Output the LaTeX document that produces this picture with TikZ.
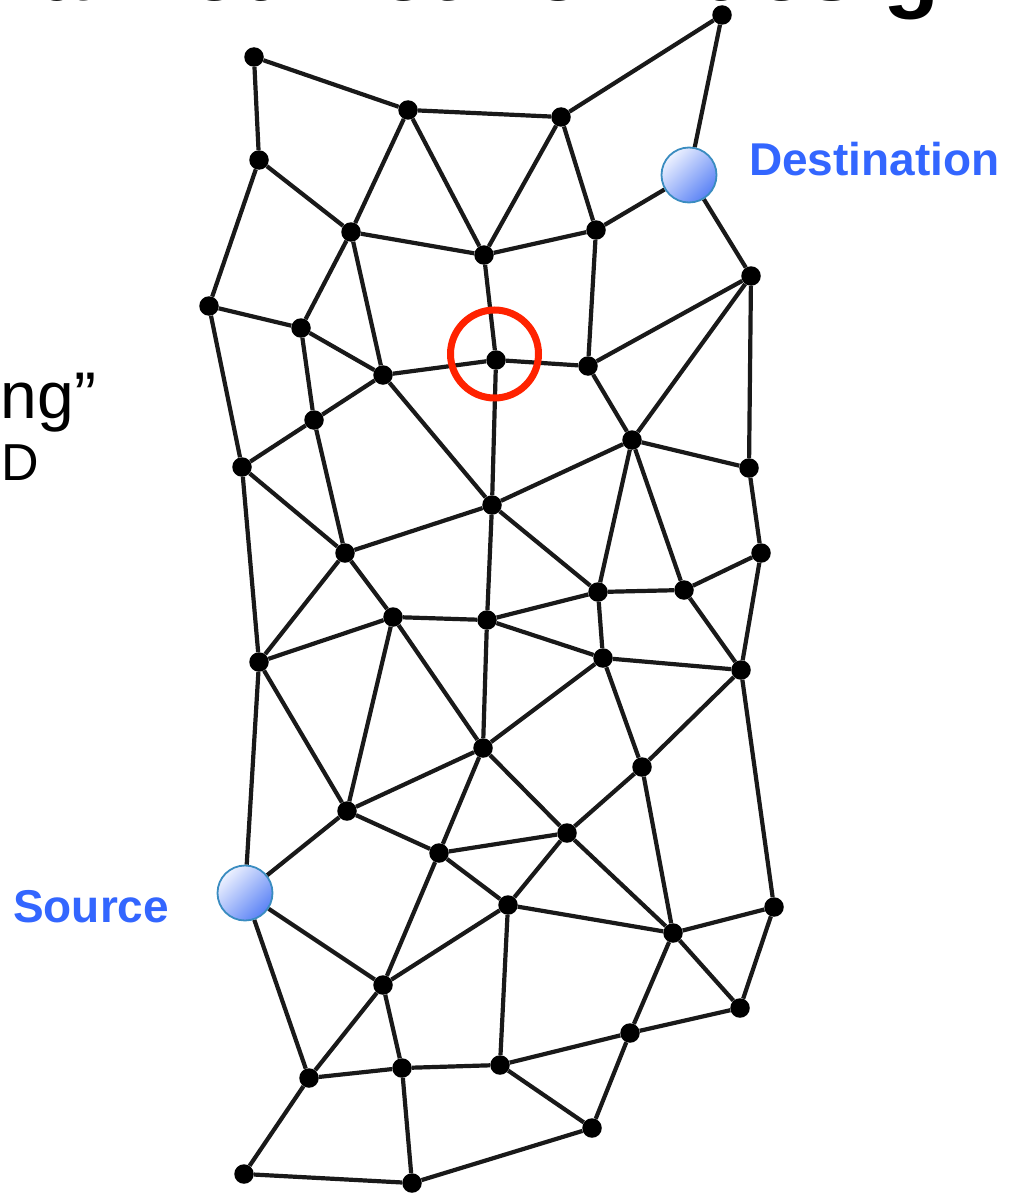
\documentclass[tikz,border=0pt]{standalone}
\usepackage{fontspec}
\setmainfont{Liberation Sans}
\usetikzlibrary{backgrounds}
\definecolor{lblc}{HTML}{3366FF}
\definecolor{ringc}{HTML}{3A8CC0}
\definecolor{shlight}{HTML}{EEF2FF}
\definecolor{shdark}{HTML}{5A82F5}
\definecolor{redc}{HTML}{FF2200}
\begin{document}
\begin{tikzpicture}[x=1pt,y=-1pt,
  dot/.style={circle,fill=black,inner sep=0pt,minimum size=19.5pt},
  link/.style={line width=4.2pt,black!90},
  endpt/.style={circle,inner sep=0pt,minimum size=55pt,draw=ringc,line width=1.8pt,
    top color=shlight,bottom color=shdark,shading angle=45},
  lbl/.style={text=lblc,font=\bfseries\fontsize{46}{46}\selectfont,inner sep=0pt,anchor=base west},
  bodytxt/.style={inner sep=0pt,anchor=base west}]
\useasboundingbox (0,0) rectangle (1015,1196);
\begin{scope}
\clip (0,0) rectangle (1015,1196);
\node[inner sep=0pt,anchor=base east,font=\bfseries\fontsize{92}{92}\selectfont] (title) at (996,0.5) {Decentralized network design};
\end{scope}
\node[bodytxt,font=\fontsize{66}{66}\selectfont] (t1) at (0.5,418) {ng”};
\node[bodytxt,font=\fontsize{52}{52}\selectfont] (t2) at (1,480) {D};

\node[dot] (n1) at (722,15) {};
\node[dot] (n2) at (254,57) {};
\node[dot] (n3) at (408,110) {};
\node[dot] (n4) at (561,117) {};
\node[dot] (n5) at (259,160) {};
\node[dot] (n6) at (351,232) {};
\node[dot] (n7) at (484,255) {};
\node[dot] (n8) at (596,230) {};
\node[dot] (n9) at (751,276) {};
\node[dot] (n10) at (209,306) {};
\node[dot] (n11) at (301,328) {};
\node[dot] (n12) at (383,375) {};
\node[dot] (R) at (496,360) {};
\node[dot] (n13) at (588,366) {};
\node[dot] (n14) at (314,420) {};
\node[dot] (n15) at (242,467) {};
\node[dot] (n16) at (632,440) {};
\node[dot] (n17) at (749,468) {};
\node[dot] (n18) at (492,505) {};
\node[dot] (n19) at (345,553) {};
\node[dot] (n20) at (761,553) {};
\node[dot] (n21) at (393,617) {};
\node[dot] (n22) at (487,620) {};
\node[dot] (n23) at (598,592) {};
\node[dot] (n24) at (684,590) {};
\node[dot] (n25) at (259,662) {};
\node[dot] (n26) at (603,658) {};
\node[dot] (n27) at (741,670) {};
\node[dot] (n28) at (483,748) {};
\node[dot] (n29) at (642,767) {};
\node[dot] (n30) at (347,811) {};
\node[dot] (n31) at (567,833) {};
\node[dot] (n32) at (439,853) {};
\node[dot] (n33) at (508,905) {};
\node[dot] (n34) at (673,933) {};
\node[dot] (n35) at (774,907) {};
\node[dot] (n36) at (383,985) {};
\node[dot] (n37) at (740,1008) {};
\node[dot] (n38) at (630,1033) {};
\node[dot] (n39) at (309,1078) {};
\node[dot] (n40) at (402,1068) {};
\node[dot] (n41) at (500,1065) {};
\node[dot] (n42) at (592,1128) {};
\node[dot] (n43) at (244,1174) {};
\node[dot] (n44) at (412,1183) {};
\node[endpt] (D) at (689,175) {};
\node[endpt] (S) at (245,893) {};

\node[lbl] (dlabel) at (749,175) {Destination};
\node[lbl] (slabel) at (13,922) {Source};

\begin{scope}[on background layer]
\foreach \a/\b in {n2/n3,n3/n4,n4/n1,n1/D,n2/n5,n5/n6,n5/n10,n3/n6,n3/n7,n4/n7,n4/n8,n6/n7,n7/n8,n8/D,D/n9,
  n6/n11,n6/n12,n7/R,n8/n13,n9/n13,n9/n16,n9/n17,
  n10/n11,n10/n15,n11/n12,n11/n14,n12/R,R/n13,R/n18,n13/n16,n12/n14,n12/n18,
  n14/n15,n14/n19,n15/n19,n15/n25,n16/n17,n16/n18,n16/n23,n16/n24,n17/n20,
  n18/n19,n18/n22,n18/n23,n19/n21,n19/n25,n20/n24,n20/n27,
  n25/n21,n25/n30,n25/S,n21/n22,n21/n28,n21/n30,n22/n23,n22/n26,n22/n28,
  n23/n24,n23/n26,n24/n27,n26/n27,n26/n28,n26/n29,n27/n29,n27/n35,
  n28/n30,n28/n31,n28/n32,n29/n31,n29/n34,n30/n32,n30/S,
  S/n36,S/n39,n32/n31,n32/n33,n32/n36,n31/n33,n31/n34,
  n33/n36,n33/n34,n33/n41,n34/n35,n34/n37,n34/n38,n35/n37,n37/n38,
  n38/n41,n38/n42,n36/n39,n36/n40,n39/n40,n39/n43,n40/n41,n40/n44,n41/n42,n42/n44,n43/n44}
  \draw[link] (\a) -- (\b);
\end{scope}

\node[circle,draw=redc,line width=7pt,inner sep=0pt,minimum size=88pt] (ring) at (494.5,354) {};
\end{tikzpicture}
\end{document}
